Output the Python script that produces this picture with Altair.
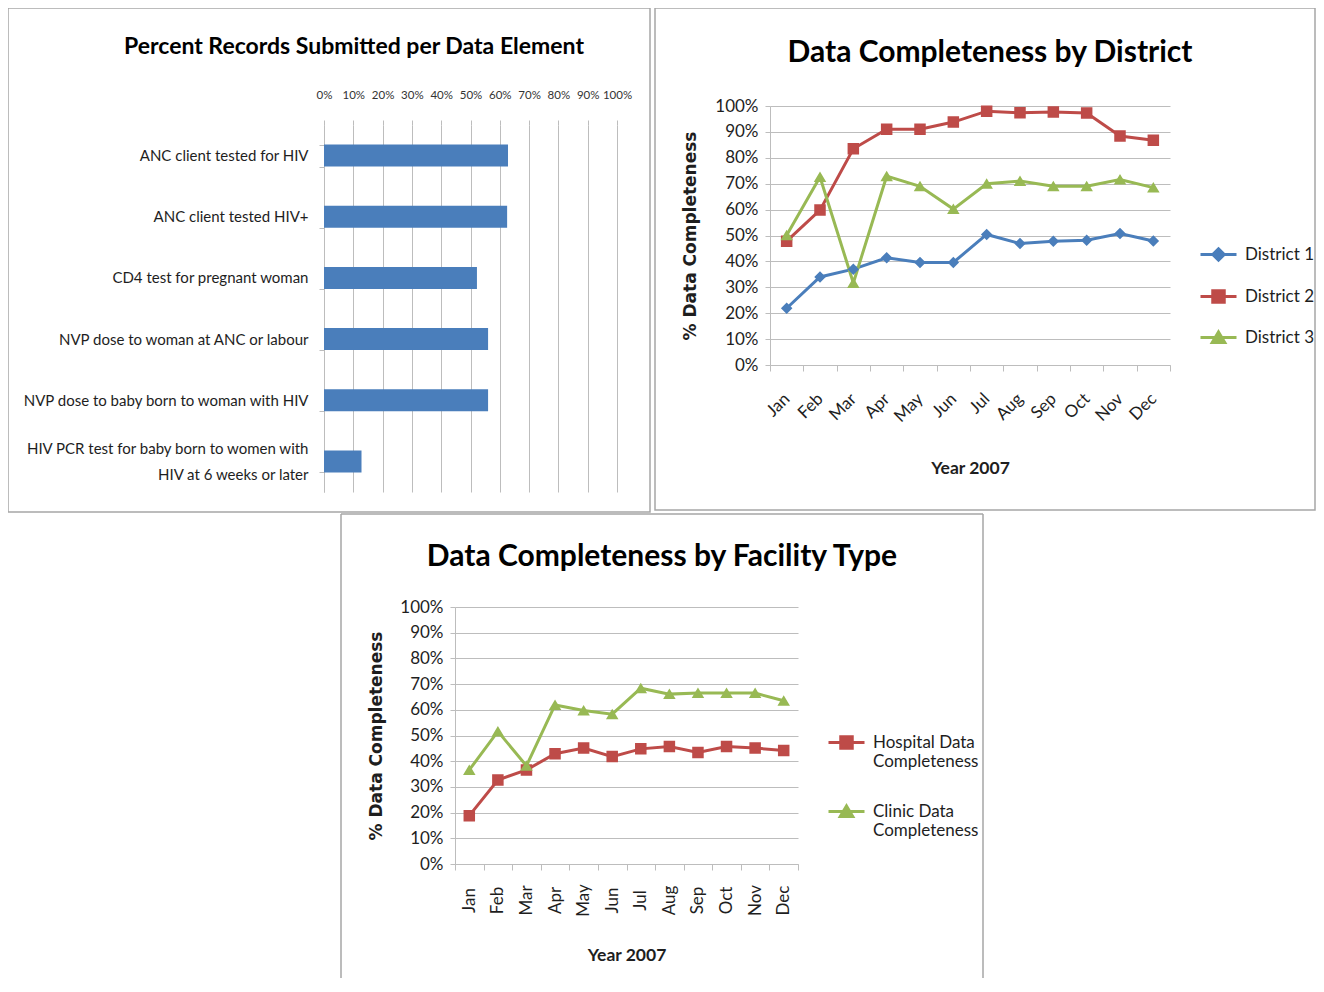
import altair as alt
import pandas as pd

# ---------------- data ----------------
elements = [
    "ANC client tested for HIV",
    "ANC client tested HIV+",
    "CD4 test for pregnant woman",
    "NVP dose to woman at ANC or labour",
    "NVP dose to baby born to woman with HIV",
    "HIV PCR test for baby born to women with HIV at 6 weeks or later",
]
pct_submitted = [0.628, 0.625, 0.522, 0.560, 0.560, 0.128]

months = ["Jan", "Feb", "Mar", "Apr", "May", "Jun", "Jul", "Aug", "Sep", "Oct", "Nov", "Dec"]
district_names = ["District 1", "District 2", "District 3"]
district1 = [0.219, 0.340, 0.370, 0.414, 0.396, 0.396, 0.504, 0.469, 0.478, 0.482, 0.508, 0.479]
district2 = [0.478, 0.598, 0.835, 0.910, 0.910, 0.938, 0.980, 0.974, 0.977, 0.973, 0.884, 0.868]
district3 = [0.501, 0.726, 0.317, 0.729, 0.690, 0.602, 0.700, 0.710, 0.690, 0.690, 0.716, 0.685]

facility_names = ["Hospital Data Completeness", "Clinic Data Completeness"]
hospital = [0.188, 0.327, 0.366, 0.429, 0.451, 0.418, 0.448, 0.457, 0.434, 0.457, 0.451, 0.442]
clinic = [0.366, 0.516, 0.382, 0.619, 0.597, 0.583, 0.684, 0.661, 0.665, 0.665, 0.665, 0.635]

pct_ticks = [0, 0.1, 0.2, 0.3, 0.4, 0.5, 0.6, 0.7, 0.8, 0.9, 1.0]

# ---------------- styles / layout ----------------
W, H = 1308, 970
FONT = "Lato"
YT_FONT = "DejaVu Sans"
GRID = "#bdbdbd"
BORDER = "#a6a6a6"
TXT = "#1e1e1e"
BLUE, RED, GREEN = "#4A7EBB", "#BE4B48", "#98B954"

DIAMOND = "M-3.6,0L3.6,0M0,-1.15L1.15,0L0,1.15L-1.15,0Z"
SQUARE = "M-3.6,0L3.6,0M-1.15,-1.15L1.15,-1.15L1.15,1.15L-1.15,1.15Z"
TRIANGLE = "M-3.6,0L3.6,0M0,-1.1L1.25,1.0L-1.25,1.0Z"

one = pd.DataFrame({"k": [0]})


def border_rect(x1, x2, y1, y2):
    return alt.Chart(one).mark_rect(fillOpacity=0, stroke=BORDER, strokeWidth=1.5).encode(
        x=alt.value(x1), x2=alt.value(x2), y=alt.value(y1), y2=alt.value(y2))


def border_rule(x1, x2, y1, y2):
    return alt.Chart(one).mark_rule(stroke=BORDER, strokeWidth=1.5).encode(
        x=alt.value(x1), x2=alt.value(x2), y=alt.value(y1), y2=alt.value(y2))


def title_text(txt, x, y, size):
    return alt.Chart(one).mark_text(font=FONT, fontSize=size, fontWeight="bold",
                                    align="center", baseline="middle", color="#000000").encode(
        x=alt.value(x), y=alt.value(y), text=alt.value(txt))


# ---------------- panel A: bars ----------------
bar_df = pd.DataFrame({"element": elements, "pct": pct_submitted})
two_line_test = "indexof(datum.label, ' HIV at') > 0"
split_expr = (two_line_test + " ? "
              "[slice(datum.label, 0, indexof(datum.label, ' HIV at')), "
              "slice(datum.label, indexof(datum.label, ' HIV at') + 1)] : datum.label")

A_X0, A_X1, A_Y0, A_Y1 = 316, 609, 117, 484
bars = alt.Chart(bar_df).mark_bar(color=BLUE).encode(
    x=alt.X("pct:Q", scale=alt.Scale(domain=[0, 1], range=[A_X0, A_X1]),
            axis=alt.Axis(orient="top", offset=-A_Y0, values=pct_ticks, format=".0%", title=None,
                          grid=True, gridColor=GRID, domain=False, tickSize=5, tickColor=GRID,
                          labelPadding=20, labelFont=FONT, labelFontSize=11.5, labelColor="#333333",
                          labelOverlap=False, labelFlush=False)),
    y=alt.Y("element:N", sort=elements,
            scale=alt.Scale(range=[A_Y0, A_Y1], paddingInner=0.64, paddingOuter=0.32),
            axis=alt.Axis(orient="left", offset=-A_X0, title=None, tickBand="extent",
                          domainColor=GRID, tickColor=GRID, tickSize=5, labelPadding=11,
                          labelFont=FONT, labelFontSize=15, labelLimit=400, labelColor=TXT,
                          labelExpr=split_expr, labelLineHeight=26, grid=False,
                          labelOffset={"condition": {"test": two_line_test, "value": -13},
                                       "value": 0})),
)


# ---------------- helpers for line panels ----------------
def line_layer(df, names, colors, shapes, xr, yr, title_x, title_y_center, xtitle_x,
               xtitle_y, angle, align, pad, legend):
    cs = alt.Scale(domain=names, range=colors)
    ss = alt.Scale(domain=names, range=shapes)
    xenc = alt.X("month:O", sort=months,
                 scale=alt.Scale(type="band", range=xr, paddingInner=0, paddingOuter=0),
                 axis=alt.Axis(orient="bottom", offset=yr[0] - H, title="Year 2007",
                               titleX=xtitle_x, titleY=xtitle_y, titleAlign="center",
                               titleBaseline="middle", titleFont=FONT, titleFontSize=17.5,
                               titleFontWeight="bold", titleColor=TXT,
                               labelAngle=angle, labelAlign=align, labelBaseline="middle",
                               labelPadding=pad, tickSize=6, tickBand="extent", domainColor=GRID,
                               tickColor=GRID, labelFont=FONT, labelFontSize=17, labelColor=TXT,
                               grid=False))
    yenc = alt.Y("value:Q", scale=alt.Scale(domain=[0, 1], range=yr),
                 axis=alt.Axis(orient="left", offset=-xr[0], values=pct_ticks, format=".0%",
                               title="% Data Completeness", titleX=title_x, titleY=title_y_center,
                               titleAngle=270, titleAlign="center", titleBaseline="middle",
                               titleFont=YT_FONT, titleFontSize=17, titleFontWeight="bold",
                               titleColor=TXT, grid=True, gridColor=GRID, domainColor=GRID,
                               tickColor=GRID, tickSize=5, labelPadding=7, labelFont=FONT,
                               labelFontSize=17, labelColor=TXT))
    lines = alt.Chart(df).mark_line(strokeWidth=3).encode(
        x=xenc, y=yenc,
        color=alt.Color("series:N", scale=cs, legend=legend),
    )
    points = alt.Chart(df).mark_point(filled=True, size=100, strokeWidth=0, opacity=1).encode(
        x=xenc, y=yenc,
        fill=alt.Fill("series:N", scale=cs, legend=legend),
        stroke=alt.Stroke("series:N", scale=cs, legend=legend),
        shape=alt.Shape("series:N", scale=ss, legend=legend),
    )
    return alt.layer(lines, points)


# ---------------- panel B: districts ----------------
dist_df = pd.DataFrame({
    "month": months * 3,
    "series": [district_names[0]] * 12 + [district_names[1]] * 12 + [district_names[2]] * 12,
    "value": district1 + district2 + district3,
})
legendB = alt.Legend(title=None, orient="none", legendX=1202, legendY=238, symbolSize=100,
                     symbolStrokeWidth=3, labelFont=FONT, labelFontSize=17, labelColor=TXT,
                     labelOffset=18, rowPadding=17, padding=0)
layerB = line_layer(dist_df, district_names, [BLUE, RED, GREEN], [DIAMOND, SQUARE, TRIANGLE],
                    [762, 1162], [357, 98], -80, 227.5, 962, 103, -45, "right", 25, legendB)

# ---------------- panel C: facility type ----------------
fac_df = pd.DataFrame({
    "month": months * 2,
    "series": [facility_names[0]] * 12 + [facility_names[1]] * 12,
    "value": hospital + clinic,
})
legendC = alt.Legend(title=None, orient="none", legendX=830, legendY=726, symbolSize=100,
                     symbolStrokeWidth=3, labelFont=FONT, labelFontSize=17, labelColor=TXT,
                     labelOffset=18, rowPadding=30, padding=0,
                     labelExpr="[replace(datum.label, ' Completeness', ''), 'Completeness']")
layerC = line_layer(fac_df, facility_names, [RED, GREEN], [SQUARE, TRIANGLE],
                    [447, 790], [856, 599], -79, 727.5, 618.5, 91, 270, "center", 30, legendC)

chart = alt.layer(
    border_rect(0, 642, 0, 504),
    title_text("Percent Records Submitted per Data Element", 346, 39, 23),
    bars,
    border_rect(647, 1307, 0, 502),
    title_text("Data Completeness by District", 982, 45, 30),
    layerB,
    border_rule(333, 975, 506, 506),
    border_rule(333, 333, 506, H),
    border_rule(975, 975, 506, H),
    title_text("Data Completeness by Facility Type", 654, 549, 30),
    layerC,
).resolve_scale(
    x="independent", y="independent", color="independent", fill="independent",
    stroke="independent", shape="independent",
).properties(
    width=W, height=H,
    padding={"left": 0, "top": 0, "right": 0, "bottom": 0},
    autosize=alt.AutoSizeParams(type="none"),
    background="white",
).configure_view(strokeWidth=0)

chart.save("out.html", embed_options={"renderer": "svg", "actions": False})
